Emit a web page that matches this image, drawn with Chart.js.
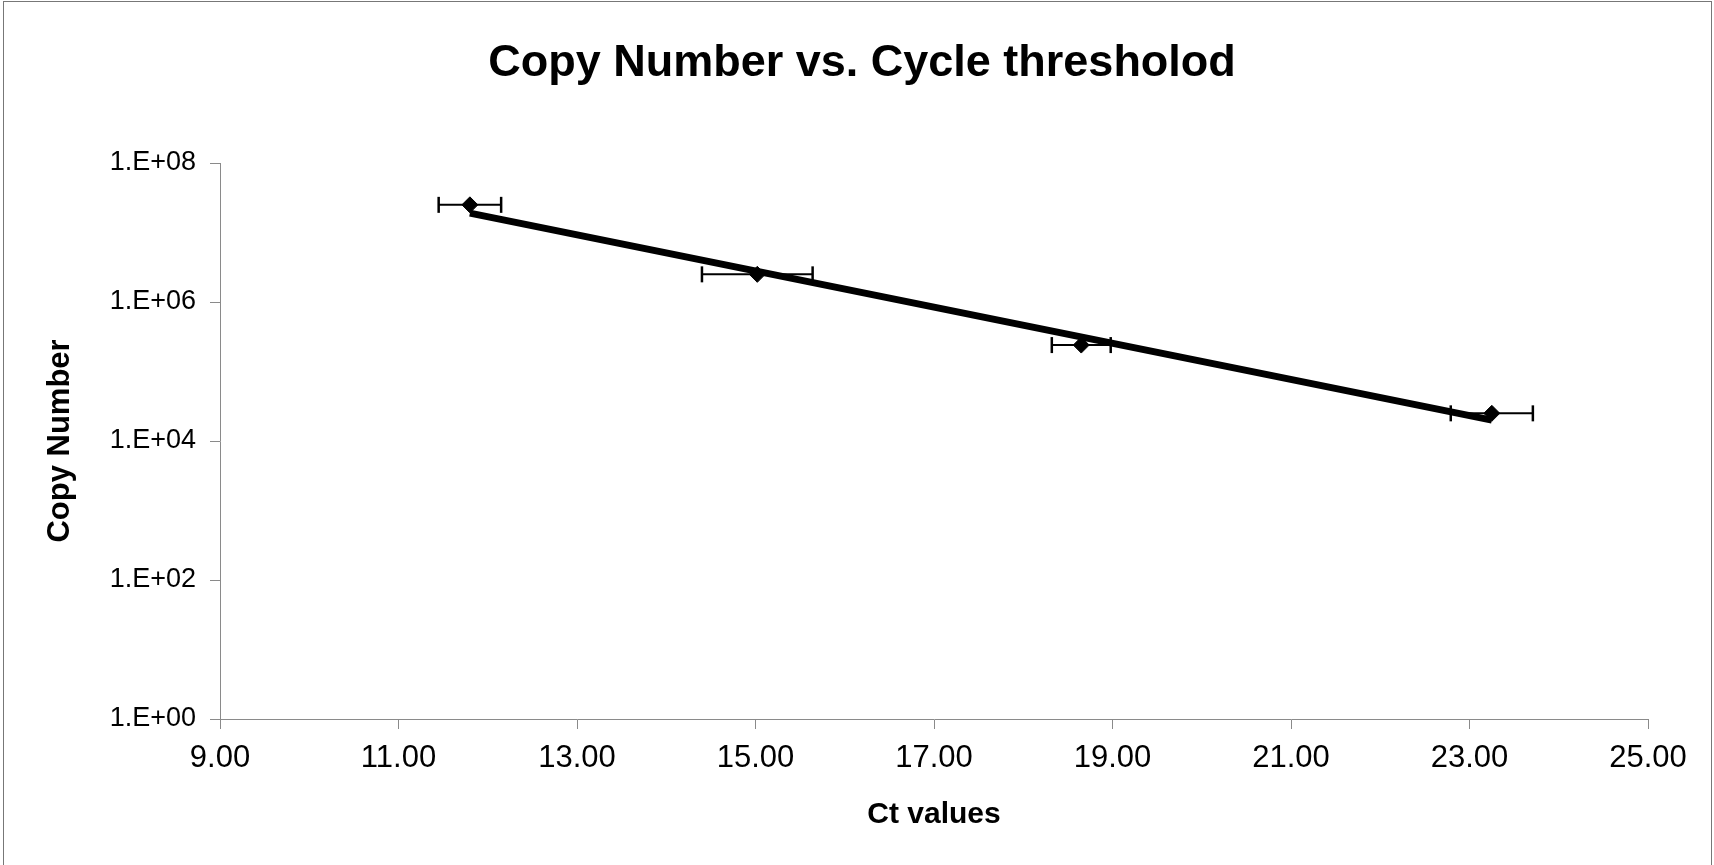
<!DOCTYPE html>
<html><head><meta charset="utf-8">
<script src="https://cdn.jsdelivr.net/npm/chart.js@4.4.1/dist/chart.umd.min.js"></script>
<style>
html,body{margin:0;padding:0;background:#fff;}
#wrap{position:relative;width:1714px;height:865px;overflow:hidden;}
#frame{position:absolute;left:3px;top:1px;width:1707px;height:870px;border-left:1px solid #777;border-top:1px solid #777;border-right:1px solid #777;pointer-events:none;}
canvas{display:block;}
</style></head><body>
<div id="wrap"><canvas id="c" width="1714" height="865"></canvas><div id="frame"></div></div>
<script>
const ctValues = [11.80, 15.02, 18.65, 23.25];
const copyNumbers = [2.5e7, 2.5e6, 2.4e5, 2.5e4];
const ctErrors = [0.35, 0.62, 0.33, 0.46];
const trendCt = [11.80, 23.25];
const trendCopies = [1.9e7, 2.0e4];
const yTickValues = [1, 1e2, 1e4, 1e6, 1e8];
const yTickLabels = ['1.E+00', '1.E+02', '1.E+04', '1.E+06', '1.E+08'];
const xTickValues = [9, 11, 13, 15, 17, 19, 21, 23, 25];
const xTickLabels = ['9.00', '11.00', '13.00', '15.00', '17.00', '19.00', '21.00', '23.00', '25.00'];

const FONT = "'Liberation Sans', Arial, sans-serif";
const AXIS_GRAY = '#8a8a8a';

const datasets = [];
datasets.push({
  label: 'Trendline',
  data: trendCt.map((x, i) => ({x: x, y: trendCopies[i]})),
  showLine: true,
  borderColor: '#000',
  borderWidth: 7,
  pointRadius: 0,
  borderCapStyle: 'butt',
  order: 0
});
datasets.push({
  label: 'Copy Number',
  data: ctValues.map((x, i) => ({x: x, y: copyNumbers[i]})),
  showLine: false,
  pointStyle: 'rectRot',
  pointRadius: 8,
  backgroundColor: '#000',
  borderColor: '#000',
  pointBorderWidth: 1,
  order: 1
});
ctValues.forEach((x, i) => {
  datasets.push({
    label: 'err' + i,
    data: [{x: x - ctErrors[i], y: copyNumbers[i]}, {x: x + ctErrors[i], y: copyNumbers[i]}],
    showLine: true,
    borderColor: '#000',
    borderWidth: 2,
    pointStyle: 'line',
    rotation: 90,
    pointRadius: 8,
    pointBorderWidth: 2.5,
    pointBorderColor: '#000',
    order: 2
  });
});

new Chart(document.getElementById('c'), {
  type: 'scatter',
  data: { datasets: datasets },
  options: {
    responsive: false,
    animation: false,
    devicePixelRatio: 1,
    layout: { padding: { left: 10, right: 0, top: 0, bottom: 0 } },
    plugins: {
      legend: { display: false },
      tooltip: { enabled: false },
      title: {
        display: true,
        text: 'Copy Number vs. Cycle thresholod',
        color: '#000',
        font: { family: FONT, size: 45, weight: 'bold' },
        padding: { top: 37, bottom: 72 }
      }
    },
    scales: {
      x: {
        type: 'linear',
        position: 'bottom',
        min: 9, max: 25,
        afterBuildTicks: s => { s.ticks = xTickValues.map(v => ({value: v})); },
        afterFit: s => { s.height = 146; },
        ticks: {
          autoSkip: false, maxRotation: 0, padding: 11,
          color: '#000',
          font: { family: FONT, size: 31 },
          callback: (v, i) => xTickLabels[i]
        },
        grid: { drawOnChartArea: false, drawTicks: true, tickLength: 10, color: AXIS_GRAY, lineWidth: 1 },
        border: { color: AXIS_GRAY, width: 1 },
        title: {
          display: true, text: 'Ct values', color: '#000',
          font: { family: FONT, size: 30, weight: 'bold' },
          padding: { top: 0, bottom: 32 }
        }
      },
      y: {
        type: 'logarithmic',
        position: 'left',
        min: 1, max: 1e8,
        afterBuildTicks: s => { s.ticks = yTickValues.map(v => ({value: v})); },
        afterFit: s => { s.width = 210; },
        ticks: {
          autoSkip: false, padding: 14,
          color: '#000',
          font: { family: FONT, size: 27 },
          callback: (v, i) => yTickLabels[i]
        },
        grid: { drawOnChartArea: false, drawTicks: true, tickLength: 10, color: AXIS_GRAY, lineWidth: 1 },
        border: { color: AXIS_GRAY, width: 1 },
        title: {
          display: true, text: 'Copy Number', color: '#000',
          font: { family: FONT, size: 31, weight: 'bold' },
          padding: { top: 32, bottom: 0 }
        }
      },
      yRight: {
        type: 'linear',
        position: 'right',
        display: true,
        grid: { display: false },
        border: { display: false },
        ticks: { display: false },
        title: { display: false },
        afterFit: s => { s.width = 66; }
      }
    }
  }
});
</script>
</body></html>
